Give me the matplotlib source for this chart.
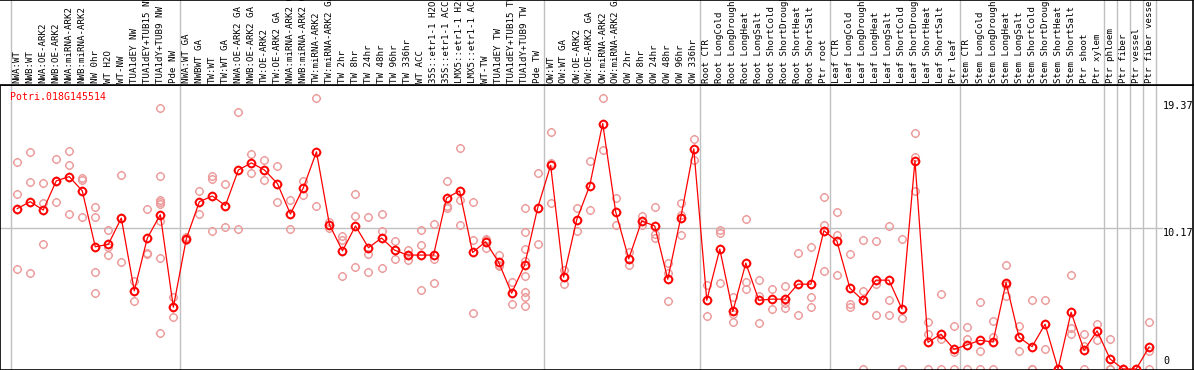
import numpy as np
import matplotlib
matplotlib.use("Agg")
import matplotlib.pyplot as plt
from matplotlib.path import Path

gene = "Potri.018G145514"

labels = [
    "NWA:WT", "NWB:WT", "NWA:OE-ARK2", "NWB:OE-ARK2", "NWA:miRNA-ARK2", "NWB:miRNA-ARK2",
    "NW 0hr", "WT H2O", "WT-NW", "TUA1dEY NW", "TUA1dEY+TUB15 NW", "TUA1dY+TUB9 NW", "Pde NW",
    "NWA:WT GA", "NWBWT GA", "TW:WT", "TW:WT GA", "NWA:OE-ARK2 GA", "NWB:OE-ARK2 GA",
    "TW:OE-ARK2", "TW:OE-ARK2 GA", "NWA:miRNA-ARK2 GA", "NWB:miRNA-ARK2 GA", "TW:miRNA-ARK2",
    "TW:miRNA-ARK2 GA", "TW 2hr", "TW 8hr", "TW 24hr", "TW 48hr", "TW 96hr", "TW 336hr",
    "WT ACC", "35S::etr1-1 H2O", "35S::etr1-1 ACC", "LMX5::etr1-1 H2O", "LMX5::etr1-1 ACC",
    "WT-TW", "TUA1dEY TW", "TUA1dEY+TUB15 TW", "TUA1dY+TUB9 TW", "Pde TW",
    "OW:WT", "OW:WT GA", "OW:OE-ARK2", "OW:OE-ARK2 GA", "OW:miRNA-ARK2", "OW:miRNA-ARK2 GA",
    "OW 2hr", "OW 8hr", "OW 24hr", "OW 48hr", "OW 96hr", "OW 336hr",
    "Root CTR", "Root LongCold", "Root LongDrought", "Root LongHeat", "Root LongSalt",
    "Root ShortCold", "Root ShortDrought", "Root ShortHeat", "Root ShortSalt", "Ptr root",
    "Leaf CTR", "Leaf LongCold", "Leaf LongDrought", "Leaf LongHeat", "Leaf LongSalt",
    "Leaf ShortCold", "Leaf ShortDrought", "Leaf ShortHeat", "Leaf ShortSalt", "Ptr leaf",
    "Stem CTR", "Stem LongCold", "Stem LongDrought", "Stem LongHeat", "Stem LongSalt",
    "Stem ShortCold", "Stem ShortDrought", "Stem ShortHeat", "Stem ShortSalt", "Ptr shoot",
    "Ptr xylem", "Ptr phloem", "Ptr fiber", "Ptr vessel", "Ptr fiber vessel",
]

means = [
    11.57, 12.07, 11.47, 13.57, 13.88, 12.85, 8.82, 8.99, 10.89, 5.64, 9.45, 11.13, 4.46,
    9.40, 12.07, 12.48, 11.79, 14.36, 14.87, 14.36, 13.38, 11.18, 13.09, 15.67, 10.41,
    8.53, 10.32, 8.75, 9.45, 8.58, 8.22, 8.22, 8.22, 12.34, 12.85, 8.41, 9.18, 7.71,
    5.47, 7.50, 11.62,
    14.70, 6.63, 10.75, 13.23, 17.71, 11.33, 7.95, 10.68, 10.32, 6.48, 10.92, 15.88,
    4.96, 8.65, 4.15, 7.64, 4.96, 5.04, 5.04, 6.12, 6.12, 9.98,
    9.23, 5.83, 4.96, 6.41, 6.41, 4.34, 15.04, 1.93, 2.51, 1.42,
    1.74, 2.07, 1.95, 6.24, 2.29, 1.61, 3.23, 0.0, 4.10, 1.35,
    2.75, 0.72, 0.0, 0.0, 1.59,
]

reps = [
    [14.94, 12.63, 7.21], [15.67, 13.50, 6.92], [13.45, 11.95, 9.01], [15.18, 13.57, 12.05],
    [15.76, 14.75, 11.18], [13.79, 13.67, 10.97], [11.71, 10.97, 6.99, 5.47],
    [10.03, 8.77, 8.22], [14.03, 10.89, 7.71], [6.36, 5.64, 4.92], [11.54, 8.39, 8.29],
    [18.85, 13.93, 12.22, 12.05, 11.91, 10.65, 8.00, 2.58], [5.16, 4.46, 3.74],
    [9.50, 9.30], [12.85, 11.18], [13.93, 13.71, 9.98], [13.35, 10.24], [18.56, 10.10],
    [15.52, 14.15], [15.11, 13.64], [14.68, 12.07], [12.22, 10.10], [13.54, 12.58],
    [19.52, 11.79], [10.58, 10.17], [9.57, 9.33, 6.72], [12.63, 11.06, 7.35],
    [10.97, 8.29, 6.99], [11.21, 9.98, 7.28], [9.25, 7.95], [8.56, 8.22, 7.88],
    [10.05, 8.97, 5.71], [10.48, 7.93, 6.19], [13.57, 11.79, 11.62], [15.96, 12.17, 10.39],
    [12.05, 9.33, 4.02], [9.40, 9.30, 8.72], [8.24, 7.52, 7.40], [6.27, 4.68],
    [11.62, 9.88, 8.65, 7.76, 6.68, 5.57, 5.18, 4.56], [14.15, 9.01],
    [17.11, 14.87, 11.98], [7.16, 6.10], [11.62, 9.93], [15.04, 11.50], [19.57, 15.83],
    [12.34, 10.39], [8.41, 7.47], [11.06, 10.41], [11.69, 9.76, 9.42], [7.64, 6.92, 4.89],
    [12.00, 11.09, 9.66], [16.61, 15.11],
    [6.07, 3.83], [10.00, 9.81, 6.19], [5.18, 3.98, 3.37], [10.82, 6.31, 5.78],
    [6.44, 5.28, 3.33], [5.78, 4.34], [6.00, 4.75, 4.39], [8.36, 3.90], [8.80, 5.18, 4.46],
    [12.41, 10.41, 7.09],
    [11.33, 9.69, 6.75], [8.29, 4.68, 4.46], [9.33, 5.64, 0.0], [9.25, 6.12, 3.90],
    [10.32, 4.99, 3.90], [9.40, 3.71, 0.0], [17.04, 15.28, 12.82], [3.37, 2.53, 0.0],
    [5.40, 2.17, 0.0], [3.13, 1.25, 0.0],
    [3.01, 2.17, 0.0], [4.87, 1.33, 0.0], [3.45, 2.34, 0.0], [7.50, 6.07, 5.30],
    [3.13, 2.34, 1.30], [4.99, 0.0, 0.0], [4.99, 1.42], [0.0, 0.0, 0.0],
    [6.77, 2.99, 2.51], [2.53, 1.66, 0.0],
    [3.25, 2.10], [2.17, 0.0, 0.0], [0.0, 0.0], [0.0, 0.0], [3.37, 1.33, 0.0],
]

# column index after which a grey separator is drawn
group_ends = [12, 40, 52, 62, 72, 83, 84, 85, 86, 87]
ytick_vals = [0, 10.17, 19.37]

W, H = 1194, 370
fig = plt.figure(figsize=(W / 100, H / 100), dpi=100, facecolor="white")

x0 = -1.322
x1 = 90.37
head_px = 85

ax = fig.add_axes([0, 0, 1193 / W, (H - head_px) / H])
axh = fig.add_axes([0, (H - head_px) / H, 1193 / W, head_px / H])

for a in (ax, axh):
    a.set_xlim(x0, x1)
    a.set_xticks([])
    a.set_yticks([])
    a.axvline(-0.5, color="#c0c0c0", lw=1.0, zorder=0)
    for g in group_ends:
        a.axvline(g + 0.5, color="#c0c0c0", lw=1.0, zorder=0)
    for s in a.spines.values():
        s.set_color("black")
        s.set_linewidth(1.2)

axh.set_ylim(0, 1)
axh.spines["left"].set_visible(False)
ax.set_ylim(-0.072, 20.49)

mono = "DejaVu Sans Mono"
for i, lab in enumerate(labels):
    axh.text(i, 0.024, lab, rotation=90, ha="center", va="bottom",
             fontsize=6.6, family=mono, color="black")

# marker: circle with four short ticks
th = np.linspace(0, 2 * np.pi, 41)
cv = np.column_stack([np.cos(th), np.sin(th)])
cc = [Path.MOVETO] + [Path.LINETO] * (len(th) - 1)
tl = 1.25
tv = [(0, 1), (0, tl), (0, -1), (0, -tl), (1, 0), (tl, 0), (-1, 0), (-tl, 0)]
tc = [Path.MOVETO, Path.LINETO] * 4
mark = Path(np.vstack([cv, tv]), cc + tc)

ax.axhline(ytick_vals[1], xmax=1162 / 1193, color="#c0c0c0", lw=1.0, zorder=0)

xs = np.arange(len(means))
for i, r in enumerate(reps):
    ax.plot([i] * len(r), r, linestyle="none", marker=mark, ms=6.6,
            mfc="none", mec="#ec9a9a", mew=1.0, zorder=2, clip_on=False)

ax.plot(xs, means, color="red", lw=0.9, marker=mark, ms=6.8, mfc="none",
        mec="red", mew=1.4, zorder=3, clip_on=False)

ax.text(10 / 1193, 1 - 12 / 285, gene, transform=ax.transAxes, color="red",
        fontsize=7.1, family=mono, ha="left", va="center")

tr = ax.get_yaxis_transform()
ax.text(1163 / 1193, ytick_vals[2], f"{ytick_vals[2]:.2f}", transform=tr,
        fontsize=7.3, family=mono, ha="left", va="top")
ax.text(1163 / 1193, ytick_vals[1], f"{ytick_vals[1]:.2f}", transform=tr,
        fontsize=7.3, family=mono, ha="left", va="top")
ax.text(1163 / 1193, 0.25, "0", transform=tr,
        fontsize=7.3, family=mono, ha="left", va="bottom")

fig.savefig("out.png", dpi=100, facecolor="white")
